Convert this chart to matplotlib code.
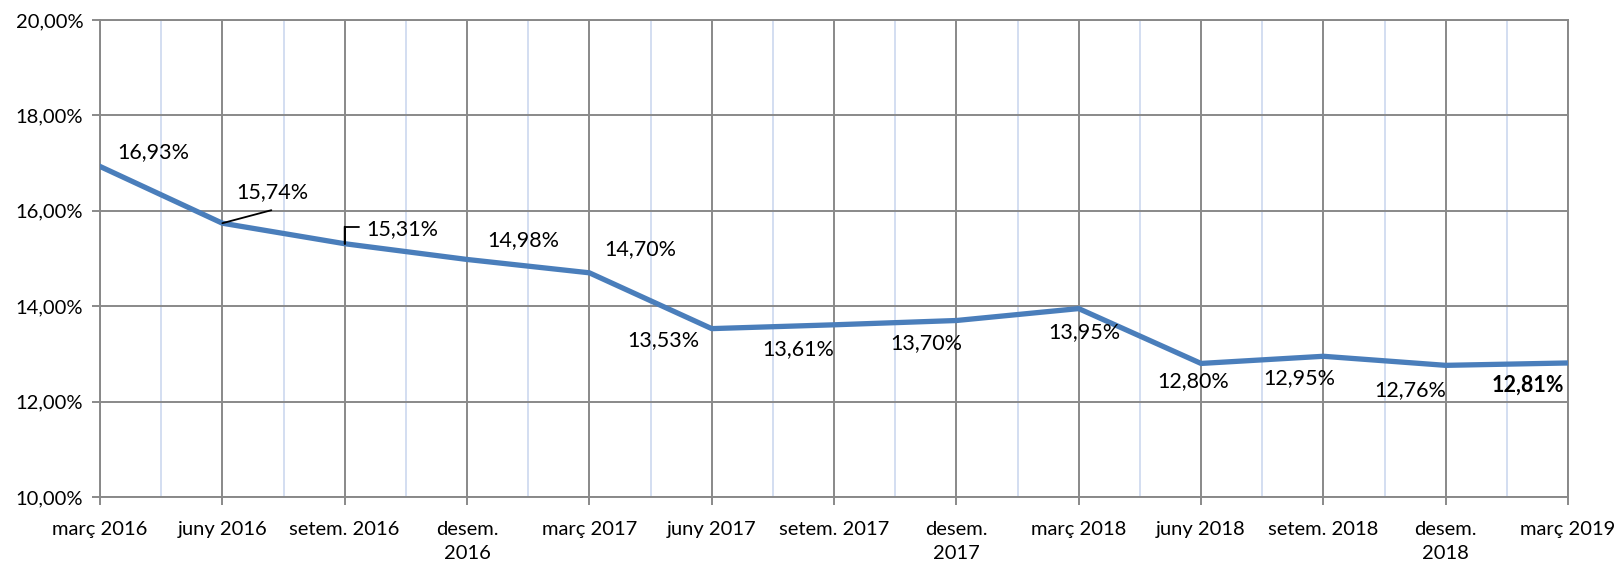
import matplotlib
matplotlib.use("Agg")
import matplotlib.pyplot as plt
from matplotlib.ticker import FuncFormatter, MultipleLocator

plt.rcParams['font.family'] = ['Lato', 'DejaVu Sans']

categories = ["març 2016", "juny 2016", "setem. 2016", "desem.\n2016", "març 2017",
              "juny 2017", "setem. 2017", "desem.\n2017", "març 2018", "juny 2018",
              "setem. 2018", "desem.\n2018", "març 2019"]
values = [16.93, 15.74, 15.31, 14.98, 14.70, 13.53, 13.61, 13.70, 13.95, 12.80,
          12.95, 12.76, 12.81]
# label offsets in pixels (dx, dy) relative to data point, y upward
label_offsets = [(53, 14), (50, 31), (58, 15), (56, 19), (51, 24), (-48, -11),
                 (-36, -24), (-30, -23), (6, -24), (-8, -18), (-24, -22),
                 (-35, -25), (-40, -22)]

fig = plt.figure(figsize=(16.19, 5.65), dpi=100)
ax = fig.add_axes([100/1619, 1-497/565, 1468/1619, 477/565])

x = list(range(len(values)))
ax.plot(x, values, color='#4A7EBB', linewidth=3.8, solid_joinstyle='round', zorder=3)

ax.set_xlim(0, len(values)-1)
ax.set_ylim(10, 20)
ax.yaxis.set_major_locator(MultipleLocator(2))
ax.yaxis.set_major_formatter(FuncFormatter(lambda v, p: f"{v:.2f}%".replace('.', ',')))
ax.set_xticks(x)
ax.set_xticklabels(categories, linespacing=1.5)
ax.set_xticks([i + 0.5 for i in x[:-1]], minor=True)

ax.grid(which='major', axis='both', color='#898989', linewidth=1.4, zorder=1)
ax.grid(which='minor', axis='x', color='#D3DEF1', linewidth=1.4, zorder=0)
for s in ax.spines.values():
    s.set_color('#898989')
    s.set_linewidth(1.4)
ax.tick_params(axis='both', which='major', color='#898989', width=1.4, length=6,
               labelsize=14.5, labelcolor='#000000')
ax.tick_params(axis='x', which='major', pad=11)
ax.tick_params(axis='y', which='major', pad=6)
ax.tick_params(axis='x', which='minor', length=0)

for i, (v, (dx, dy)) in enumerate(zip(values, label_offsets)):
    txt = f"{v:.2f}%".replace('.', ',')
    ax.annotate(txt, (i, v), xytext=(dx, dy), textcoords='offset pixels',
                ha='center', va='center', fontsize=15.5,
                fontweight='bold' if i == len(values)-1 else 'normal', zorder=4)

# leader lines
ax.annotate("", (1, values[1]), xytext=(49, 13), textcoords='offset pixels',
            arrowprops=dict(arrowstyle='-', color='black', lw=1.3, shrinkA=0, shrinkB=0))
ax.annotate("", (2, values[2]), xytext=(0, 17), textcoords='offset pixels',
            arrowprops=dict(arrowstyle='-', color='black', lw=1.3, shrinkA=0, shrinkB=0))
ax.annotate("", (2, values[2]), xytext=(14, 17), textcoords='offset pixels',
            arrowprops=dict(arrowstyle='-', color='black', lw=1.3, shrinkA=0, shrinkB=0,
                            connectionstyle='angle,angleA=0,angleB=90,rad=0'))

fig.savefig("out.png", dpi=100)
